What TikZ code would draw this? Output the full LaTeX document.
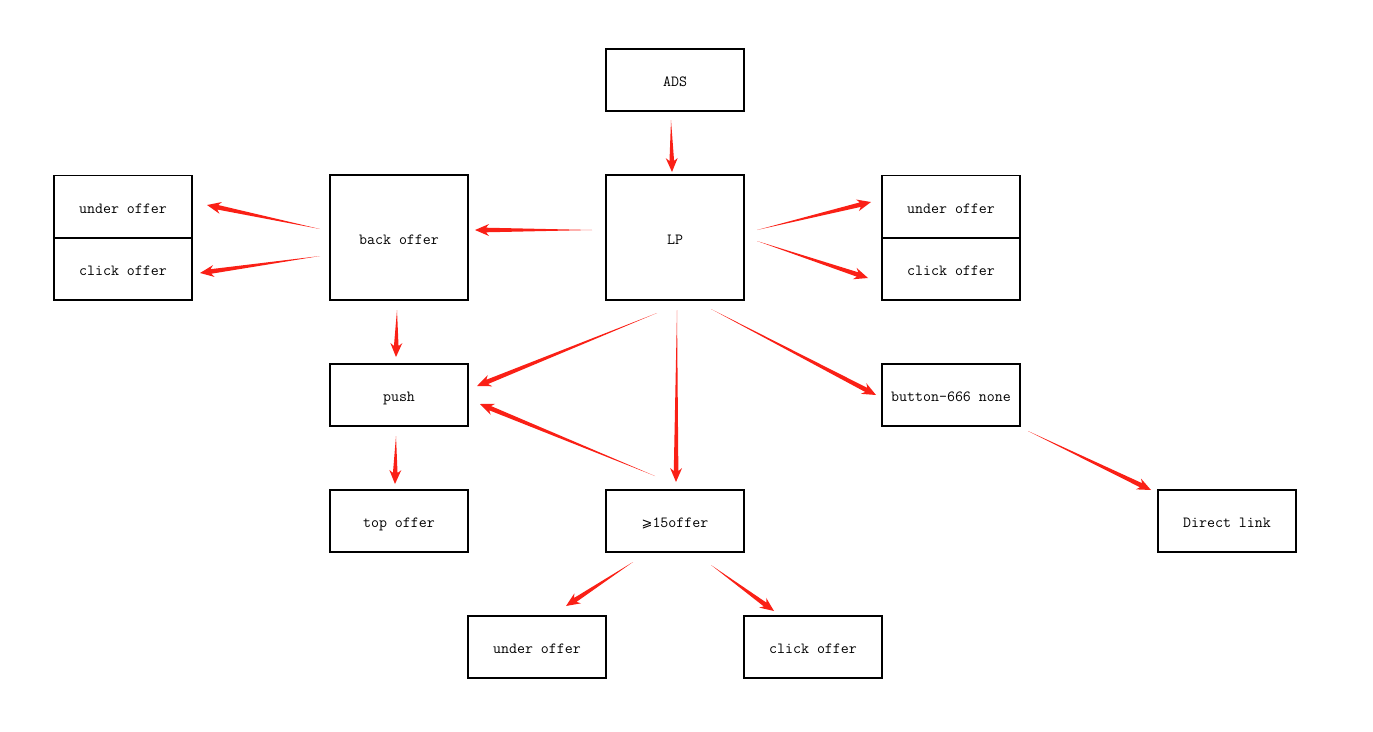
\documentclass[tikz,border=0pt]{standalone}
\usepackage{fontspec}
\newfontfamily\symfont{DejaVu Sans}
\usetikzlibrary{calc}
\definecolor{arrowred}{RGB}{250,32,22}
\tikzset{
  box/.style={draw=black, line width=1.6pt, fill=white, minimum width=138pt, inner sep=0pt},
  shortbox/.style={box, minimum height=62pt},
  tallbox/.style={box, minimum height=125pt},
  lbl/.style={anchor=base, font=\ttfamily\fontsize{15.5}{17}\selectfont, inner sep=0pt},
}
\newcommand\tarrow[2]{%
  \fill[arrowred] let \p1=(#1), \p2=(#2), \n1={atan2(\y2-\y1,\x2-\x1)}, \n2={veclen(\x2-\x1,\y2-\y1)} in
    [shift={(\p1)}, rotate=\n1]
    (0pt,0pt) -- ({\n2*1pt-11pt},2.3pt) -- ({\n2*1pt-14pt},6pt) -- ({\n2*1pt},0pt) -- ({\n2*1pt-14pt},-6pt) -- ({\n2*1pt-11pt},-2.3pt) -- cycle;%
}
\newcommand\lab[2]{\node[lbl] at ($(#1.center)+(0,6.5)$) {#2};}
\begin{document}
\begin{tikzpicture}[x=1pt,y=-1pt]
\useasboundingbox (0,0) rectangle (1373,731);
\node[shortbox] (ads) at (675,80) {};
\node[tallbox] (lp) at (675,237.5) {};
\node[tallbox] (back) at (399,237.5) {};
\node[shortbox] (lunder) at (123,206.5) {};
\node[shortbox] (lclick) at (123,269) {};
\node[shortbox] (runder) at (951,206.5) {};
\node[shortbox] (rclick) at (951,269) {};
\node[shortbox] (push) at (399,395) {};
\node[shortbox] (top) at (399,521) {};
\node[shortbox] (fifteen) at (675,521) {};
\node[shortbox] (button) at (951,395) {};
\node[shortbox] (direct) at (1227,521) {};
\node[shortbox] (bunder) at (537,647) {};
\node[shortbox] (bclick) at (813,647) {};
\lab{ads}{ADS}
\lab{lp}{LP}
\lab{back}{back offer}
\lab{lunder}{under offer}
\lab{lclick}{click offer}
\lab{runder}{under offer}
\lab{rclick}{click offer}
\lab{push}{push}
\lab{top}{top offer}
\lab{fifteen}{{\symfont\fontsize{13}{14}\selectfont ⩾}15offer}
\lab{button}{button-666 none}
\lab{direct}{Direct link}
\lab{bunder}{under offer}
\lab{bclick}{click offer}
% arrow end points
\coordinate (a1s) at (671,120); \coordinate (a1e) at (672,172);
\coordinate (a2s) at (592,230); \coordinate (a2e) at (475,230);
\coordinate (a3s) at (320,229); \coordinate (a3e) at (207,205);
\coordinate (a4s) at (320,256); \coordinate (a4e) at (200,273);
\coordinate (a5s) at (757,230); \coordinate (a5e) at (871,202);
\coordinate (a6s) at (757,241); \coordinate (a6e) at (868,278);
\coordinate (a7s) at (397,310); \coordinate (a7e) at (396,357);
\coordinate (a8s) at (396,436); \coordinate (a8e) at (395,484);
\coordinate (a9s) at (657,313); \coordinate (a9e) at (477,386);
\coordinate (a10s) at (655,476); \coordinate (a10e) at (480,404);
\coordinate (a11s) at (677,310); \coordinate (a11e) at (676,482);
\coordinate (a12s) at (711,309); \coordinate (a12e) at (876,395);
\coordinate (a13s) at (1028,431); \coordinate (a13e) at (1151,490);
\coordinate (a14s) at (633,562); \coordinate (a14e) at (566,606);
\coordinate (a15s) at (711,565); \coordinate (a15e) at (774,611);
\tarrow{a1s}{a1e}
\tarrow{a2s}{a2e}
\tarrow{a3s}{a3e}
\tarrow{a4s}{a4e}
\tarrow{a5s}{a5e}
\tarrow{a6s}{a6e}
\tarrow{a7s}{a7e}
\tarrow{a8s}{a8e}
\tarrow{a9s}{a9e}
\tarrow{a10s}{a10e}
\tarrow{a11s}{a11e}
\tarrow{a12s}{a12e}
\tarrow{a13s}{a13e}
\tarrow{a14s}{a14e}
\tarrow{a15s}{a15e}
\end{tikzpicture}
\end{document}
